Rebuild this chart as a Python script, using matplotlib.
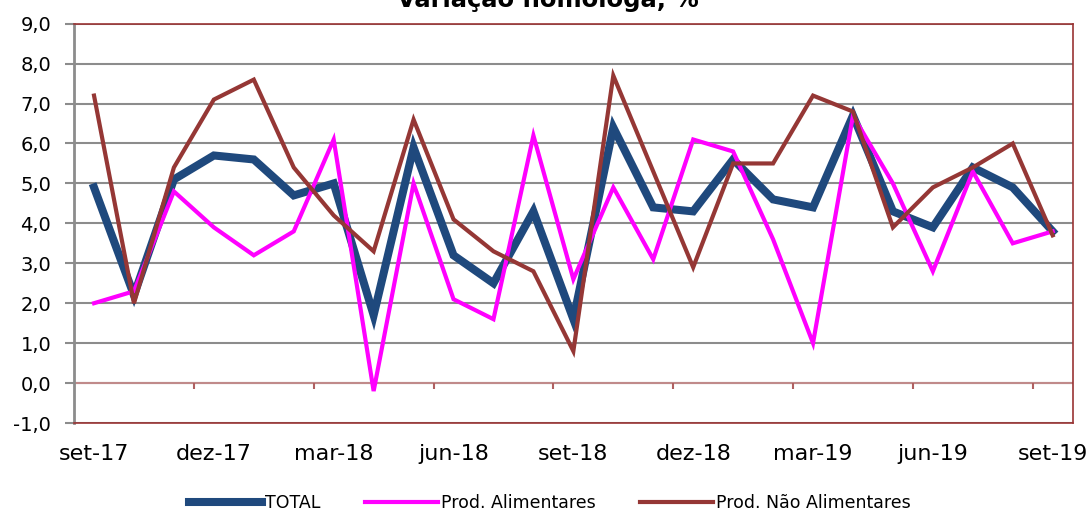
import matplotlib
matplotlib.use('Agg')
import matplotlib.pyplot as plt
import numpy as np
from matplotlib.ticker import FuncFormatter

# meses (set-17 a set-19)
meses = ['set-17', 'out-17', 'nov-17', 'dez-17', 'jan-18', 'fev-18', 'mar-18', 'abr-18', 'mai-18',
         'jun-18', 'jul-18', 'ago-18', 'set-18', 'out-18', 'nov-18', 'dez-18', 'jan-19', 'fev-19',
         'mar-19', 'abr-19', 'mai-19', 'jun-19', 'jul-19', 'ago-19', 'set-19']

total = [4.9, 2.2, 5.1, 5.7, 5.6, 4.7, 5.0, 1.7, 5.9, 3.2, 2.5, 4.3, 1.6,
         6.4, 4.4, 4.3, 5.6, 4.6, 4.4, 6.7, 4.3, 3.9, 5.4, 4.9, 3.8]
alimentares = [2.0, 2.3, 4.8, 3.9, 3.2, 3.8, 6.1, -0.2, 5.0, 2.1, 1.6, 6.2, 2.6,
               4.9, 3.1, 6.1, 5.8, 3.6, 1.0, 6.7, 5.0, 2.8, 5.3, 3.5, 3.8]
nao_alimentares = [7.2, 2.0, 5.4, 7.1, 7.6, 5.4, 4.2, 3.3, 6.6, 4.1, 3.3, 2.8, 0.8,
                   7.7, 5.3, 2.9, 5.5, 5.5, 7.2, 6.8, 3.9, 4.9, 5.4, 6.0, 3.7]

x = np.arange(len(meses))

fig = plt.figure(figsize=(10.89, 5.13), dpi=100)
ax = fig.add_axes([0.068, 0.1754, 0.917, 0.7784])

ax.plot(x, total, color='#1F497D', lw=5.8, label='TOTAL', solid_joinstyle='miter', zorder=3)
ax.plot(x, alimentares, color='#FF00FF', lw=3.0, label='Prod. Alimentares', solid_joinstyle='miter', zorder=4)
ax.plot(x, nao_alimentares, color='#953735', lw=3.0, label='Prod. Não Alimentares', solid_joinstyle='miter', zorder=5)

ax.set_xlim(-0.5, len(meses) - 0.5)
ax.set_ylim(-1, 9)
ax.set_yticks(np.arange(-1, 10, 1))
ax.yaxis.set_major_formatter(FuncFormatter(lambda v, p: f'{v:.1f}'.replace('.', ',')))
ax.yaxis.grid(True, color='#8c8c8c', lw=1.5, zorder=1)
ax.set_axisbelow(True)

# eixo das categorias passa no zero
ax.axhline(0, color='#c08a8a', lw=1.5, zorder=2)
ax.vlines(np.arange(-0.5, len(meses) - 1, 3), -0.15, 0, colors='#b06060', lw=1.5, zorder=2)

ax.set_xticks(x[::3])
ax.set_xticklabels(meses[::3])
ax.tick_params(axis='x', length=0, pad=15, labelsize=16)
ax.tick_params(axis='y', direction='out', length=6.5, width=1.5, color='#8c8c8c', pad=10, labelsize=14)

for s in ['top', 'right', 'bottom']:
    ax.spines[s].set_color('#993333')
    ax.spines[s].set_linewidth(1.2)
ax.spines['left'].set_color('#8c8c8c')
ax.spines['left'].set_linewidth(2)

fig.text(0.503, 0.9864, 'Variação homóloga, %', ha='center', va='baseline', fontsize=17.5, fontweight='bold')

fig.legend(loc='center', bbox_to_anchor=(0.505, 0.02), ncol=3, frameon=False, fontsize=12.5,
           handlelength=4.2, handletextpad=0.2, columnspacing=2.55)

fig.savefig('out.png', dpi=100)
